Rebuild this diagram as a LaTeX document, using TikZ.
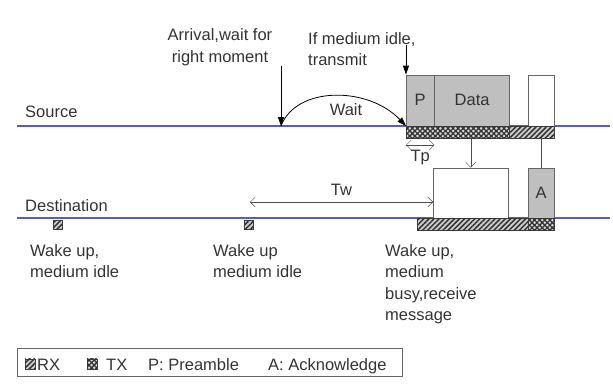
\documentclass[tikz,border=0pt]{standalone}
\usepackage{fontspec}
\setmainfont{Liberation Sans}
\usetikzlibrary{arrows.meta, positioning, patterns.meta}
\definecolor{medium}{RGB}{88,88,214}

\begin{document}
\begin{tikzpicture}[
    x=1pt, y=-1pt,
    lbl/.style={font=\fontsize{16.5}{21.5}\selectfont, text=black!80, inner sep=0pt},
    medline/.style={draw=medium, line width=2.6pt},
    pkt/.style={rectangle, draw=black!60, fill=black!25, inner sep=0pt, font=\fontsize{16.5}{20}\selectfont, text=black!80},
    emptybox/.style={rectangle, draw=black!60, fill=white, inner sep=0pt},
    rxbox/.style={rectangle, draw=black!75, fill=black!20, inner sep=0pt, postaction={pattern={Lines[angle=45, distance=3.6pt, line width=1.5pt]}, pattern color=black!80}},
    txbox/.style={rectangle, draw=black!75, fill=black!15, inner sep=0pt, postaction={pattern={Hatch[angle=45, distance=3.6pt, line width=1.3pt]}, pattern color=black!80}},
    fall/.style={-{Triangle[length=9pt, width=6pt]}, line width=0.8pt, draw=black},
    arrow/.style={-{Straight Barb[length=5pt]}, draw=black!70},
    span/.style={{Straight Barb[length=5pt]}-{Straight Barb[length=5pt]}, draw=black!70},
    legendbox/.style={rectangle, draw=black!60, thick, inner sep=0pt}
]
\useasboundingbox (0,0) rectangle (613,383);

% medium lines
\coordinate (src-start) at (17,126);
\coordinate (src-end) at (610,126);
\coordinate (dst-start) at (17,218);
\coordinate (dst-end) at (610,218);
\draw[medline] (src-start) -- (src-end);
\draw[medline] (dst-start) -- (dst-end);
\node[lbl, anchor=base west] (source) at (25,117) {Source};
\node[lbl, anchor=base west] (destination) at (25,211) {Destination};

% source side
\node[pkt, minimum width=28pt, minimum height=51pt, anchor=south west] (pre) at (406,126) {P};
\node[pkt, minimum width=75pt, minimum height=51pt, anchor=south west] (data) at (pre.south east) {Data};
\node[emptybox, minimum width=26pt, minimum height=51pt, anchor=south west] (src-win) at (528,126) {};
\node[txbox, minimum width=103pt, minimum height=12pt, anchor=north west] (src-tx) at (pre.south west) {};
\node[rxbox, minimum width=45pt, minimum height=12pt, anchor=north west] (src-rx) at (src-tx.north east) {};

% destination side
\node[emptybox, minimum width=75pt, minimum height=50pt, anchor=south west] (dst-msg) at (433,218) {};
\node[pkt, minimum width=26pt, minimum height=50pt, anchor=south west] (ack) at (528,218) {A};
\node[rxbox, minimum width=111pt, minimum height=12pt, anchor=north west] (dst-rx) at (417,218) {};
\node[txbox, minimum width=26pt, minimum height=12pt, anchor=north west] (dst-tx) at (dst-rx.north east) {};

% arrival and wait
\node[lbl, align=center] (arrival) at (220,47) {Arrival,wait for\\right moment};
\coordinate (arrive) at (281,126);
\draw[fall] (arrive |- arrival.south) -- (arrive);
\draw[fall] (arrive) .. controls (296,86) and (368,86) .. (pre.south west);
\node[lbl] (wait) at (346,110) {Wait};

\node[lbl, align=left, anchor=north west] (idle) at (308,32) {If medium idle,\\transmit};
\draw[fall] ([yshift=30pt]pre.north west) -- (pre.north west);

% timings
\draw[span] ([yshift=-19pt]pre.south west) -- ([yshift=-19pt]pre.south east) node[lbl, midway, below=5pt] (tp) {Tp};
\coordinate (tw-start) at (250,202);
\draw[span] (tw-start) -- (dst-msg.west |- tw-start) node[lbl, midway, above=6pt] (tw) {Tw};

\draw[arrow] (src-tx.south -| dst-msg.north) -- (dst-msg.north);
\draw[draw=black!70] (src-rx.south -| ack.north) -- (ack.north);

% wake ups
\node[rxbox, minimum size=9pt, anchor=north west] (wake-a) at (53,220) {};
\node[rxbox, minimum size=9pt, anchor=north west] (wake-b) at (244,220) {};
\node[lbl, align=left, anchor=north west] (wake-a-txt) at (30,244) {Wake up,\\medium idle};
\node[lbl, align=left, anchor=north west] (wake-b-txt) at (213,244) {Wake up\\medium idle};
\node[lbl, align=left, anchor=north west] (wake-c-txt) at (385,244) {Wake up,\\medium\\busy,receive\\message};

% legend
\node[legendbox, minimum width=385pt, minimum height=28pt, anchor=north west] (legend) at (17,348) {};
\node[rxbox, minimum size=10pt, anchor=south west] (leg-rx) at (25,369) {};
\node[lbl, anchor=base west] (leg-rx-txt) at (37,370) {RX};
\node[txbox, minimum size=10pt, anchor=south west] (leg-tx) at (87,369) {};
\node[lbl, anchor=base west] (leg-tx-txt) at (106,370) {TX};
\node[lbl, anchor=base west] (leg-p) at (148,370) {P: Preamble};
\node[lbl, anchor=base west] (leg-a) at (268,370) {A: Acknowledge};
\end{tikzpicture}
\end{document}
